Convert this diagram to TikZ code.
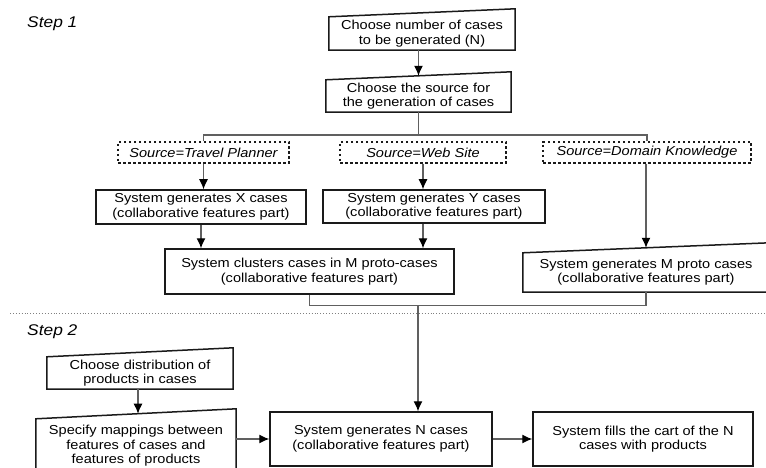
\documentclass[tikz,border=0pt]{standalone}
\usepackage{fontspec}
\setmainfont[FakeStretch=1.12]{Liberation Sans}
\usetikzlibrary{arrows.meta}
\usetikzlibrary{calc}
\definecolor{boxgray}{HTML}{1A1A1A}
\definecolor{linegray}{HTML}{606060}
\tikzset{
  base_n/.style = {align=center, inner sep=0pt, text centered,
    font=\fontsize{13}{14.5}\selectfont},
  proc_n/.style = {base_n, draw=boxgray, line width=1.5pt},% plain process box
  input_n/.style = {base_n},% manual input box, outline drawn afterwards
  src_n/.style = {base_n, draw=boxgray, line width=1.2pt,
    dash pattern=on 2.5pt off 2.5pt, font=\fontsize{13}{14.5}\selectfont\itshape},% source choice
  step_n/.style = {base_n, anchor=west, font=\fontsize{15.5}{17}\selectfont\itshape},% step title
  link/.style = {draw=linegray, line width=1.2pt},
  sep_line/.style = {draw=gray, dotted, line width=0.9pt},
}

\begin{document}
\begin{tikzpicture}[x=1pt,y=-1pt,>={Latex[length=10pt,width=9pt,black]}]
\useasboundingbox (0,0) rectangle (766,468);
\clip (0,0) rectangle (766,468);

% step 1
\node [step_n] (step1) at (27,24) {Step 1};
\node [input_n, minimum width=186pt, minimum height=33pt] (numcases) at (422,33.5)
	{Choose number of cases\\to be generated (N)};
\node [input_n, minimum width=185pt, minimum height=32pt] (source) at (418.5,96)
	{Choose the source for\\the generation of cases};
\node [src_n, minimum width=171pt, minimum height=21pt] (srctp) at (203.5,152.5) {Source=Travel Planner};
\node [src_n, minimum width=166pt, minimum height=21pt] (srcws) at (423,152.5) {Source=Web Site};
\node [src_n, minimum width=208pt, minimum height=21pt] (srcdk) at (647,152.5) {Source=Domain Knowledge};
\node [proc_n, minimum width=210pt, minimum height=34pt] (genx) at (201,207)
	{System generates X cases\\(collaborative features part)};
\node [proc_n, minimum width=222pt, minimum height=33pt] (geny) at (434,206.5)
	{System generates Y cases\\(collaborative features part)};
\node [proc_n, minimum width=289pt, minimum height=45pt] (cluster) at (309.5,271.5)
	{System clusters cases in M proto-cases\\(collaborative features part)};
\node [input_n, minimum width=246pt, minimum height=39pt] (protogen) at (646,272.5)
	{System generates M proto cases\\(collaborative features part)};

% step 2
\draw [sep_line] (10,313) -- (766,313);
\node [step_n] (step2) at (27,332) {Step 2};
\node [input_n, minimum width=186pt, minimum height=32pt] (distrib) at (140,373)
	{Choose distribution of\\products in cases};
\node [input_n, minimum width=200pt, minimum height=54pt] (mappings) at (136,446)
	{Specify mappings between\\features of cases and\\features of products};
\node [proc_n, minimum width=222pt, minimum height=54pt] (genn) at (381,439)
	{System generates N cases\\(collaborative features part)};
\node [proc_n, minimum width=220pt, minimum height=54pt] (fillcart) at (643,439)
	{System fills the cart of the N\\cases with products};

% slanted tops of the manual input boxes
\foreach \n/\r in {numcases/8, source/8, distrib/9, mappings/10, protogen/10}
	\draw [draw=boxgray, line width=1.5pt] (\n.south west) -- (\n.north west)
		-- ([yshift=\r pt]\n.north east) -- (\n.south east) -- cycle;

\coordinate (srctop) at ($(source.north west)!0.5!([yshift=8pt]source.north east)$);
\coordinate (prototop) at ($(protogen.north west)!0.5!([yshift=10pt]protogen.north east)$);
\coordinate (maptop) at ($(mappings.north west)!0.51!([yshift=10pt]mappings.north east)$);
\coordinate (branch) at (source.south |- 0,135);
\coordinate (merge) at (418,305.5);

\draw [link,->] (srctop |- numcases.south) -- (srctop);
\draw [link] (source.south) -- (branch);
\draw [link] (srctp.north) |- (branch) -| (srcdk.north);
\draw [link,->] (srctp.south) -- (srctp.south |- genx.north);
\draw [link,->] (srcws.south) -- (srcws.south |- geny.north);
\draw [link,->] (genx.south) -- (genx.south |- cluster.north);
\draw [link,->] (srcws.south |- geny.south) -- (srcws.south |- cluster.north);
\draw [link,->] (prototop |- srcdk.south) -- (prototop);
\draw [link] (cluster.south) |- (merge) -| (protogen.south);
\draw [link,->] (merge) -- (merge |- genn.north);
\draw [link,->] (maptop |- distrib.south) -- (maptop);
\draw [link,->] (mappings.east |- genn.west) -- (genn.west);
\draw [link,->] (genn.east) -- (fillcart.west);
\end{tikzpicture}
\end{document}
